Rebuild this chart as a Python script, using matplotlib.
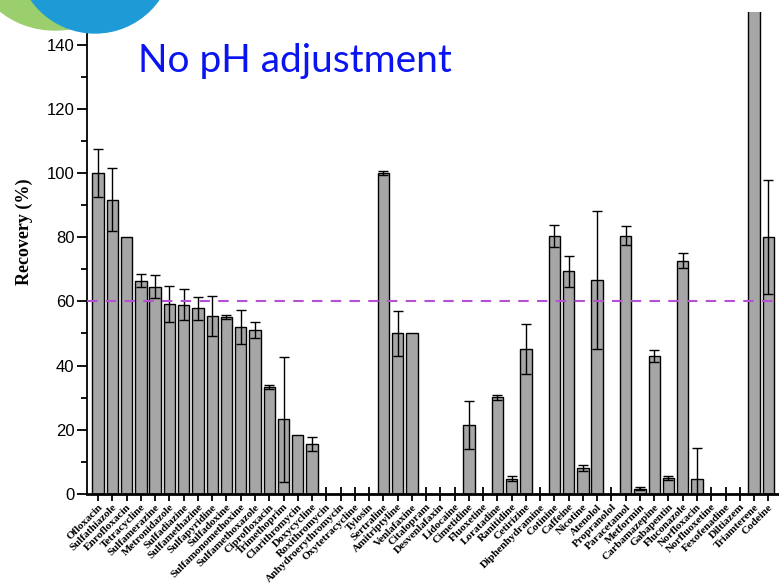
import numpy as np
import matplotlib
matplotlib.use("Agg")
import matplotlib.pyplot as plt
from matplotlib.patches import Ellipse

# --------------------------
# Data
# --------------------------
compounds = [
    "Ofloxacin", "Sulfathiazole", "Enrofloxacin", "Tetracycline", "Sulfamerazine",
    "Metronidazole", "Sulfadiazine", "Sulfamethazine", "Sulfapyridine", "Sulfadoxine",
    "Sulfamonomethoxine", "Sulfamethoxazole", "Ciprofloxacin", "Trimethoprim",
    "Clarithromycin", "Doxycycline", "Roxithromycin", "Anhydroerythromycin",
    "Oxytetracycline", "Tylosin", "Sertraline", "Amitriptyline", "Venlafaxine",
    "Citalopram", "Desvenlafaxin", "Lidocaine", "Cimetidine", "Fluoxetine",
    "Loratadine", "Ranitidine", "Cetirizine", "Diphenhydramine", "Cotinine",
    "Caffeine", "Nicotine", "Atenolol", "Propranolol", "Paracetamol", "Metformin",
    "Carbamazepine", "Gabapentin", "Fluconazole", "Norfloxacin", "Norfluoxetine",
    "Fexofenadine", "Diltiazem", "Triamterene", "Codeine",
]

recovery = [
    100.0, 91.7, 80.0, 66.4, 64.6, 59.2, 59.0, 57.8, 55.5, 55.2,
    52.0, 51.1, 33.3, 23.2, 18.3, 15.5, 0, 0, 0, 0,
    100.0, 50.0, 50.0, 0, 0, 0, 21.5, 0, 30.1, 4.8,
    45.2, 0, 80.4, 69.3, 8.0, 66.6, 0, 80.5, 1.6, 42.9,
    4.9, 72.7, 4.6, 0, 0, 0, 180.0, 80.0,
]

recovery_sd = [
    7.5, 9.7, 0, 2.0, 3.7, 5.6, 4.8, 3.5, 6.2, 0.7,
    5.4, 2.4, 0.7, 19.4, 0, 2.2, 0, 0, 0, 0,
    0.5, 7.1, 0, 0, 0, 0, 7.5, 0, 0.8, 0.8,
    7.7, 0, 3.4, 4.9, 0.9, 21.4, 0, 3.0, 0.5, 1.8,
    0.7, 2.4, 9.6, 0, 0, 0, 0, 17.7,
]

threshold = 60

# --------------------------
# Figure
# --------------------------
W, H = 779, 583
fig = plt.figure(figsize=(W / 100, H / 100), dpi=100)
ax = fig.add_axes([0.1117, 0.1527, 0.8883, 0.826])

x = np.arange(len(compounds))
vals = np.array(recovery)
errs = np.array(recovery_sd)
has_err = errs > 0

ax.bar(x, vals, width=0.8, color="#a6a6a6", edgecolor="black", linewidth=1.0, zorder=2)
ax.errorbar(x[has_err], vals[has_err], yerr=errs[has_err], fmt="none",
            ecolor="black", elinewidth=1.0, capsize=3.3, capthick=1.0, zorder=3)

ax.axhline(threshold, color="#b450d2", linestyle=(0, (5, 4)), linewidth=1.5, zorder=4)

ax.set_xlim(-0.78, 47.75)
ax.set_ylim(0, 150)

ax.set_yticks(np.arange(0, 141, 20))
ax.set_yticks(np.arange(0, 150, 10), minor=True)
ax.tick_params(axis="y", which="major", direction="out", length=7, width=1.3,
               labelsize=12, pad=2)
ax.tick_params(axis="y", which="minor", direction="out", length=4, width=1.3)
for lab in ax.get_yticklabels():
    lab.set_family("Liberation Sans")

ax.set_xticks(x)
ax.set_xticklabels(compounds, rotation=45, ha="right", va="top",
                   rotation_mode="anchor", fontsize=8,
                   fontfamily="Liberation Serif", fontweight="bold")
ax.tick_params(axis="x", which="major", direction="inout", length=10, width=1.3, pad=1)

ax.spines["top"].set_visible(False)
ax.spines["right"].set_visible(False)
ax.spines["left"].set_linewidth(1.3)
ax.spines["bottom"].set_linewidth(2.0)

ax.set_ylabel("Recovery (%)", fontsize=13, fontweight="bold",
              fontfamily="Liberation Serif")
ax.yaxis.set_label_coords(-0.078, 0.5436)

ax.text(2.8, 135, "No pH adjustment", color="#0a14f0", fontsize=28,
        fontfamily="Lato", ha="left", va="center")

# logo fragment in the corner (pixel sizes converted to figure fractions)
logo_green = Ellipse((55 / W, 1 + 40 / H), 160 / W, 140 / H,
                     transform=fig.transFigure, color="#9bcf6e", zorder=10)
fig.patches.append(logo_green)
logo_blue = Ellipse((95 / W, 1 + 45 / H), 156 / W, 156 / H,
                    transform=fig.transFigure, color="#1e9bd7", zorder=11)
fig.patches.append(logo_blue)

fig.savefig("out.png", dpi=100)
